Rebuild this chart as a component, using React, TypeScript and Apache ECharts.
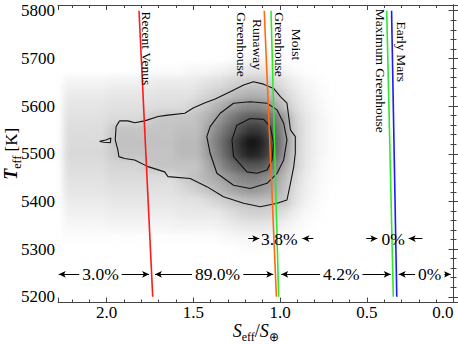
import React, { useEffect, useRef } from "react";
import * as echarts from "echarts";

const SERIF = "'Liberation Serif', 'Times New Roman', serif";

// Density grid (darkness in %), columns = S_eff centers, rows = Teff centers
const S_COLS = [2.225, 2.175, 2.125, 2.075, 2.025, 1.975, 1.925, 1.875, 1.825, 1.775, 1.725, 1.675, 1.625, 1.575, 1.525, 1.475, 1.425, 1.375, 1.325, 1.275, 1.225, 1.175, 1.125, 1.075, 1.025, 0.975, 0.925, 0.875, 0.825, 0.775, 0.725, 0.675];
const T_ROWS = [5700, 5675, 5650, 5625, 5600, 5575, 5550, 5525, 5500, 5475, 5450, 5425, 5400, 5375, 5350, 5325, 5300];
const DENSITY = [
  [0,0,0,0,0,0,0,0,0,0,0,0,0,0,0,0,0,0,0,2,4,6,6,5,3,1,0,0,0,0,0,0],
  [0,0,0,0,0,0,0,0,0,3,3,3,3,3,6,6,6,8,10,12,14,15,15,14,11,8,5,3,1,0,0,0],
  [8,8,8,8,8,10,10,10,10,10,13,13,13,13,13,15,17,19,21,24,26,28,28,26,22,17,12,8,5,3,1,0],
  [13,13,13,13,13,15,15,15,15,15,17,17,17,17,17,20,23,26,29,33,36,38,38,36,31,24,17,12,8,5,2,0],
  [16,16,16,16,16,18,18,18,18,18,20,20,20,20,23,27,31,36,42,47,51,53,53,50,42,32,22,15,10,6,3,1],
  [18,18,18,18,18,21,21,21,21,24,28,30,30,30,30,33,38,45,53,60,66,70,70,66,58,48,28,19,13,8,4,1],
  [20,20,20,20,20,27,31,31,31,31,31,31,31,33,33,33,42,52,60,68,76,82,82,76,64,50,30,20,13,8,4,2],
  [21,21,21,21,21,28,32,32,32,32,32,32,32,35,35,35,46,56,66,76,86,94,92,82,68,52,32,20,13,8,4,2],
  [22,22,22,22,22,27,31,31,31,31,31,31,31,35,35,35,45,54,64,74,84,90,88,80,66,50,31,19,13,8,4,2],
  [20,20,20,20,20,24,24,24,24,27,31,31,31,31,31,31,40,48,56,64,70,72,72,68,56,42,30,19,12,7,3,1],
  [18,18,18,18,18,21,21,21,21,21,21,21,21,26,30,33,37,41,46,51,55,57,56,52,45,35,25,16,10,6,3,1],
  [16,16,16,16,16,18,18,18,18,18,18,18,18,21,24,27,31,35,39,43,47,49,48,45,40,32,22,14,9,5,2,0],
  [13,13,13,13,13,15,15,15,15,15,15,15,15,17,17,17,20,23,26,29,32,33,33,32,31,30,20,12,7,4,1,0],
  [10,10,10,10,10,12,12,12,12,12,12,12,12,14,14,14,14,14,17,20,23,25,25,24,22,18,12,7,4,2,0,0],
  [6,6,6,6,6,8,8,8,8,8,8,8,8,9,9,9,9,9,11,13,15,16,16,15,13,10,6,4,2,0,0,0],
  [2,2,2,2,2,2,2,2,2,2,2,2,2,3,3,3,3,3,5,6,7,7,7,6,5,3,2,0,0,0,0,0],
  [0,0,0,0,0,0,0,0,0,0,0,0,0,0,0,0,0,0,0,0,2,3,3,2,0,0,0,0,0,0,0,0],
];

// Contours [S_eff, Teff]
const OUTER_CONTOUR = [[1.925,5569],[1.877,5569],[1.838,5565],[1.780,5569],[1.703,5578],[1.646,5581],[1.549,5585],[1.501,5596],[1.432,5607],[1.374,5615],[1.287,5630],[1.210,5644],[1.153,5651],[1.095,5646],[1.037,5637],[0.998,5620],[0.960,5606],[0.950,5578],[0.940,5550],[0.912,5536],[0.912,5501],[0.921,5473],[0.940,5438],[0.960,5403],[1.017,5396],[1.114,5389],[1.210,5396],[1.326,5410],[1.422,5431],[1.518,5448],[1.646,5452],[1.665,5462],[1.761,5473],[1.838,5487],[1.896,5490],[1.929,5494],[1.935,5508],[1.950,5529],[1.945,5557],[1.925,5569]];
const MIDDLE_CONTOUR = [[1.172,5609],[1.075,5606],[1.017,5592],[0.979,5564],[0.960,5529],[0.979,5487],[1.017,5459],[1.075,5438],[1.172,5427],[1.268,5434],[1.364,5459],[1.403,5501],[1.422,5536],[1.403,5557],[1.345,5585],[1.268,5606],[1.172,5609]];
const INNER_CONTOUR = [[1.172,5574],[1.095,5572],[1.056,5557],[1.037,5522],[1.046,5487],[1.075,5466],[1.133,5459],[1.191,5462],[1.268,5494],[1.277,5529],[1.249,5560],[1.172,5574]];
const ISLAND_CONTOUR = [[2.040,5526],[2.004,5529],[1.975,5533],[1.978,5523],[2.016,5524],[2.040,5526]];

// Habitable-zone limits
const RECENT_VENUS = [[1.813, 5800], [1.734, 5200]];
const RUNAWAY_GH = [[1.091, 5800], [1.021, 5200]];
const MOIST_GH = [[1.052, 5800], [1.008, 5200]];
const MAX_GH = [[0.385, 5800], [0.347, 5200]];
const EARLY_MARS = [[0.357, 5800], [0.327, 5200]];

// Limit labels [S, T, text]
const LIMIT_LABELS: [number, number, string][] = [
  [1.767, 5721, "Recent Venus"],
  [1.176, 5729, "Runaway\nGreenhouse"],
  [0.954, 5729, "Moist\nGreenhouse"],
  [0.42, 5674, "Maximum Greenhouse"],
  [0.297, 5714, "Early Mars"],
];

// Percentage annotations
const ROW1_T = 5247;
const ROW1_SEGMENTS = [[2.276, 1.755], [1.721, 1.039], [0.993, 0.362], [0.316, 0.016]];
const ROW1_TEXT_S = [2.035, 1.36, 0.647, 0.137];
const ROW1_TEXT = ["3.0%", "89.0%", "4.2%", "0%"];
const ROW2_T = 5322;
const ROW2_ARROWS = [[1.183, 1.12], [0.808, 0.871], [0.503, 0.439], [0.179, 0.258]];
const ROW2_TEXT_S = [1.004, 0.348];
const ROW2_TEXT = ["3.8%", "0%"];

const X_MIN = 0, X_MAX = 2.28, Y_MIN = 5188, Y_MAX = 5812;
const GRID = { left: 58, right: 4.5, top: 5, bottom: 41.5, outerBoundsMode: "none", containLabel: false };
const FRAME = "#444";

function axisBase() {
  return {
    axisLine: { show: true, lineStyle: { color: FRAME, width: 1 } },
    axisTick: { show: true, inside: true, length: 5, lineStyle: { color: FRAME } },
    minorTick: { show: true, splitNumber: 5, length: 3, lineStyle: { color: FRAME } },
    splitLine: { show: false },
    minorSplitLine: { show: false },
  };
}

const xFmt = (v: number) => {
  const k = v * 2;
  return Math.abs(k - Math.round(k)) < 1e-6 ? v.toFixed(1) : "";
};
const yFmt = (v: number) => (Math.abs(v / 100 - Math.round(v / 100)) < 1e-6 ? String(Math.round(v)) : "");

export default function App() {
  const bgRef = useRef<HTMLDivElement>(null);
  const fgRef = useRef<HTMLDivElement>(null);

  useEffect(() => {
    const bg = echarts.init(bgRef.current!, undefined, { renderer: "svg" });
    const fg = echarts.init(fgRef.current!, undefined, { renderer: "svg" });

    const cells: number[][] = [];
    T_ROWS.forEach((t, r) => {
      S_COLS.forEach((s, c) => {
        const v = DENSITY[r][c];
        if (v > 0) cells.push([s, t, v]);
      });
    });

    bg.setOption({
      animation: false,
      grid: GRID,
      xAxis: { type: "value", inverse: true, min: X_MIN, max: X_MAX, show: false },
      yAxis: { type: "value", min: Y_MIN, max: Y_MAX, show: false },
      series: [
        {
          type: "custom",
          clip: true,
          data: cells,
          renderItem: (params: any, api: any) => {
            const s = api.value(0), t = api.value(1), v = api.value(2);
            const a = api.coord([s + 0.025, t + 12.5]);
            const b = api.coord([s - 0.025, t - 12.5]);
            const g = Math.round(255 * (1 - Math.pow(v / 100, 1.25)));
            return {
              type: "rect",
              shape: {
                x: Math.min(a[0], b[0]),
                y: Math.min(a[1], b[1]),
                width: Math.abs(b[0] - a[0]) + 0.6,
                height: Math.abs(b[1] - a[1]) + 0.6,
              },
              style: { fill: `rgb(${g},${g},${g})` },
            };
          },
        },
      ],
    });

    const contour = (data: number[][]) => ({
      type: "line",
      data,
      showSymbol: false,
      symbol: "none",
      silent: true,
      z: 2,
      lineStyle: { color: "#111", width: 1.1 },
    });
    const limit = (data: number[][], color: string) => ({
      type: "line",
      data,
      showSymbol: false,
      symbol: "none",
      silent: true,
      z: 3,
      lineStyle: { color, width: 1.6 },
    });

    const ARROW = { symbol: "arrow", symbolSize: [5, 7] };
    const markData: any[] = [];
    ROW1_SEGMENTS.forEach(([a, b]) => {
      markData.push([
        { coord: [a, ROW1_T], ...ARROW },
        { coord: [b, ROW1_T], ...ARROW },
      ]);
    });
    ROW2_ARROWS.forEach(([a, b]) => {
      markData.push([
        { coord: [a, ROW2_T], symbol: "none" },
        { coord: [b, ROW2_T], ...ARROW },
      ]);
    });

    const labelData: any[] = [];
    LIMIT_LABELS.forEach(([s, t, txt]) => {
      labelData.push({
        value: [s, t],
        name: txt,
        label: { rotate: -90, fontSize: 13.5, lineHeight: 16.5 },
      });
    });
    ROW1_TEXT.forEach((txt, i) => {
      labelData.push({
        value: [ROW1_TEXT_S[i], ROW1_T],
        name: txt,
        label: { fontSize: 17.5, backgroundColor: "#fff", padding: [0, 3] },
      });
    });
    ROW2_TEXT.forEach((txt, i) => {
      labelData.push({
        value: [ROW2_TEXT_S[i], ROW2_T],
        name: txt,
        label: { fontSize: 17.5 },
      });
    });

    fg.setOption({
      animation: false,
      grid: GRID,
      xAxis: [
        {
          type: "value",
          position: "bottom",
          inverse: true,
          min: X_MIN,
          max: X_MAX,
          interval: 0.5,
          ...axisBase(),
          axisLabel: {
            formatter: xFmt,
            fontFamily: SERIF,
            fontSize: 17,
            color: "#000",
            margin: 1,
            alignMinLabel: "right",
          },
          name: "{i|S}{s|eff}{n|/}{i|S}{s|⊕}",
          nameLocation: "middle",
          nameGap: 16,
          nameMoveOverlap: false,
          nameTextStyle: {
            fontFamily: SERIF,
            color: "#000",
            rich: {
              i: { fontFamily: SERIF, fontSize: 18, fontStyle: "italic", lineHeight: 24, verticalAlign: "middle", color: "#000" },
              s: { fontFamily: SERIF, fontSize: 12, lineHeight: 12, verticalAlign: "bottom", color: "#000" },
              n: { fontFamily: SERIF, fontSize: 18, lineHeight: 24, verticalAlign: "middle", color: "#000" },
            },
          },
        },
        {
          type: "value",
          position: "top",
          inverse: true,
          min: X_MIN,
          max: X_MAX,
          interval: 0.5,
          ...axisBase(),
          axisLabel: { show: false },
        },
      ],
      yAxis: [
        {
          type: "value",
          position: "left",
          min: Y_MIN,
          max: Y_MAX,
          ...axisBase(),
          axisLabel: { formatter: yFmt, fontFamily: SERIF, fontSize: 17, color: "#000", margin: 3 },
          name: "{t|T}{s|eff}{n| [K]}",
          nameLocation: "middle",
          nameGap: 35,
          nameMoveOverlap: false,
          nameTextStyle: {
            fontFamily: SERIF,
            color: "#000",
            rich: {
              t: { fontFamily: SERIF, fontSize: 18, fontStyle: "italic", fontWeight: "bold", lineHeight: 24, verticalAlign: "middle", color: "#000" },
              s: { fontFamily: SERIF, fontSize: 12, lineHeight: 12, verticalAlign: "bottom", color: "#000" },
              n: { fontFamily: SERIF, fontSize: 17, lineHeight: 24, verticalAlign: "middle", color: "#000" },
            },
          },
        },
        {
          type: "value",
          position: "right",
          min: Y_MIN,
          max: Y_MAX,
          ...axisBase(),
          axisLabel: { show: false },
        },
      ],
      series: [
        contour(OUTER_CONTOUR),
        contour(MIDDLE_CONTOUR),
        contour(INNER_CONTOUR),
        contour(ISLAND_CONTOUR),
        limit(RECENT_VENUS, "#ff1a1a"),
        limit(RUNAWAY_GH, "#ff6a10"),
        limit(MOIST_GH, "#2ee82e"),
        limit(MAX_GH, "#2ee82e"),
        limit(EARLY_MARS, "#1a1aff"),
        {
          type: "line",
          data: [],
          silent: true,
          z: 4,
          markLine: {
            silent: true,
            animation: false,
            symbol: ["arrow", "arrow"],
            label: { show: false },
            lineStyle: { color: "#000", width: 1, type: "solid" },
            emphasis: { disabled: true },
            data: markData,
          },
        },
        {
          type: "scatter",
          data: labelData,
          symbolSize: 1,
          silent: true,
          z: 5,
          itemStyle: { color: "rgba(0,0,0,0)", opacity: 1 },
          label: {
            show: true,
            position: "inside",
            formatter: "{b}",
            fontFamily: SERIF,
            color: "#000",
            opacity: 1,
            align: "center",
            verticalAlign: "middle",
          },
        },
      ],
    });

    return () => {
      bg.dispose();
      fg.dispose();
    };
  }, []);

  return (
    <div style={{ position: "fixed", left: 0, top: 0, width: 458, height: 344, background: "#fff" }}>
      <div ref={bgRef} style={{ position: "absolute", left: 0, top: 0, width: 458, height: 344, filter: "blur(3.5px)" }} />
      <div ref={fgRef} style={{ position: "absolute", left: 0, top: 0, width: 458, height: 344 }} />
    </div>
  );
}
